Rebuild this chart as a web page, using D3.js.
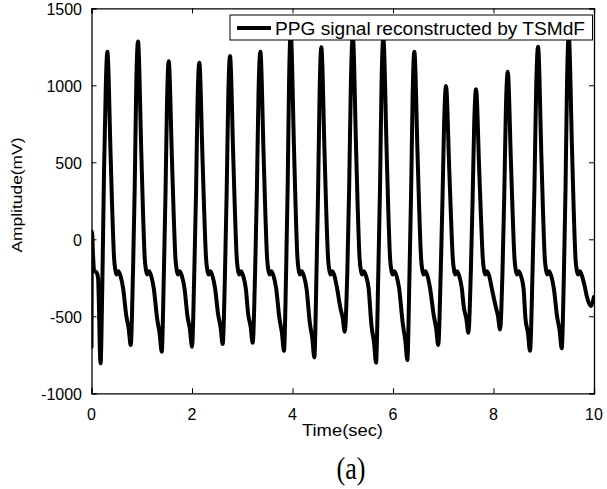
<!DOCTYPE html>
<html>
<head>
<meta charset="utf-8">
<script src="https://cdn.jsdelivr.net/npm/d3@7"></script>
<style>
html,body{margin:0;padding:0;background:#fff;}
svg{display:block;}
</style>
</head>
<body>
<svg id="chart" width="607" height="489"></svg>
<script>
// ---- data ----
const legendLabel = "PPG signal reconstructed by TSMdF";
const xLabel = "Time(sec)";
const yLabel = "Amplitude(mV)";
const panelLabel = "(a)";
const xTicks = [0, 2, 4, 6, 8, 10];
const yTicks = [-1000, -500, 0, 500, 1000, 1500];
const xDomain = [0, 10];
const yDomain = [-1000, 1500];

// [time (sec), amplitude (mV)]
const ppgSamples = [
  [0,-700],[0.01,50],[0.03,-100],[0.055,-205],[0.10,-215],[0.13,-250],[0.18,-805],[0.215,-300],[0.25,450],[0.285,1000],
  [0.315,1218],[0.38,548],[0.41,219],[0.45,-125],[0.475,-200],[0.50,-228],[0.535,-208],[0.575,-235],[0.63,-320],[0.69,-492],[0.74,-580],[0.78,-687],[0.826,-210],[0.86,334],[0.89,989],
  [0.925,1285],[0.99,578],[1.02,231],[1.06,-125],[1.085,-200],[1.11,-228],[1.145,-208],[1.185,-235],[1.24,-320],[1.307,-518],[1.357,-613],[1.397,-730],[1.441,-210],[1.473,301],[1.503,890],
  [1.536,1156],[1.601,520],[1.631,208],[1.671,-125],[1.696,-200],[1.721,-228],[1.756,-208],[1.796,-235],[1.851,-320],[1.91,-499],[1.96,-588],[2.0,-698],[2.046,-210],[2.08,298],[2.11,883],
  [2.145,1147],[2.21,516],[2.24,206],[2.28,-125],[2.305,-200],[2.33,-228],[2.365,-208],[2.405,-235],[2.46,-320],[2.52,-488],[2.57,-574],[2.61,-680],[2.657,-210],[2.69,309],[2.721,916],
  [2.756,1190],[2.821,536],[2.851,214],[2.891,-125],[2.916,-200],[2.941,-228],[2.976,-208],[3.016,-235],[3.071,-320],[3.117,-483],[3.167,-568],[3.207,-672],[3.256,-210],[3.291,317],[3.323,938],
  [3.36,1218],[3.425,548],[3.455,219],[3.495,-125],[3.52,-200],[3.545,-228],[3.58,-208],[3.62,-235],[3.675,-320],[3.74,-514],[3.79,-609],[3.83,-724],[3.873,-210],[3.904,348],[3.932,1032],
  [3.964,1340],[4.029,603],[4.059,241],[4.099,-125],[4.124,-200],[4.149,-228],[4.184,-208],[4.224,-235],[4.279,-320],[4.344,-540],[4.394,-642],[4.434,-767],[4.478,-210],[4.51,324],[4.54,960],
  [4.573,1247],[4.638,561],[4.668,224],[4.708,-125],[4.733,-200],[4.758,-228],[4.793,-208],[4.833,-235],[4.888,-320],[4.95,-440],[5.0,-512],[5.04,-600],[5.091,-210],[5.128,343],[5.162,1016],
  [5.2,1320],[5.265,594],[5.295,238],[5.335,-125],[5.36,-200],[5.385,-228],[5.42,-208],[5.46,-235],[5.515,-320],[5.572,-561],[5.622,-669],[5.662,-801],[5.708,-210],[5.742,341],[5.772,1009],
  [5.807,1310],[5.872,590],[5.902,236],[5.942,-125],[5.967,-200],[5.992,-228],[6.027,-208],[6.067,-235],[6.122,-320],[6.195,-550],[6.245,-656],[6.285,-784],[6.329,-210],[6.361,317],[6.391,938],
  [6.424,1218],[6.489,548],[6.519,219],[6.559,-125],[6.584,-200],[6.609,-228],[6.644,-208],[6.684,-235],[6.739,-320],[6.81,-492],[6.86,-580],[6.9,-687],[6.95,-210],[6.985,259],[7.018,766],
  [7.055,995],[7.12,448],[7.15,179],[7.19,-125],[7.215,-200],[7.24,-228],[7.275,-208],[7.315,-235],[7.37,-320],[7.41,-444],[7.46,-517],[7.5,-607],[7.549,-210],[7.584,253],[7.616,750],
  [7.652,974],[7.717,438],[7.747,175],[7.787,-125],[7.812,-200],[7.837,-228],[7.872,-208],[7.912,-235],[7.967,-320],[8.04,-431],[8.09,-500],[8.13,-585],[8.179,-210],[8.214,283],[8.246,838],
  [8.283,1088],[8.348,490],[8.378,196],[8.418,-125],[8.443,-200],[8.468,-228],[8.503,-208],[8.543,-235],[8.598,-320],[8.636,-514],[8.686,-609],[8.726,-724],[8.777,-210],[8.814,325],[8.848,963],
  [8.886,1251],[8.951,563],[8.981,225],[9.021,-125],[9.046,-200],[9.071,-228],[9.106,-208],[9.146,-235],[9.201,-320],[9.267,-505],[9.317,-596],[9.357,-708],[9.402,-210],[9.434,343],[9.463,1016],
  [9.497,1320],[9.562,594],[9.592,238],[9.632,-125],[9.657,-200],[9.682,-228],[9.717,-208],[9.757,-235],[9.812,-300],[9.86,-375],[9.934,-433],[10.0,-373]
];

// ---- layout ----
const svg = d3.select("#chart");
const plotLeft = 91.5, plotRight = 594, plotTop = 8.3, plotBottom = 393.3;
const x = d3.scaleLinear().domain(xDomain).range([plotLeft, plotRight]);
const y = d3.scaleLinear().domain(yDomain).range([plotBottom, plotTop]);
const font = "'Liberation Sans', Arial, sans-serif";

svg.append("rect").attr("width", 607).attr("height", 489).attr("fill", "#fff");

svg.append("defs").append("clipPath").attr("id", "plotclip")
  .append("rect").attr("x", plotLeft).attr("y", plotTop)
  .attr("width", plotRight - plotLeft).attr("height", plotBottom - plotTop);

// signal
const line = d3.line().x(d => x(d[0])).y(d => y(d[1])).curve(d3.curveMonotoneX);
svg.append("path")
  .datum(ppgSamples)
  .attr("clip-path", "url(#plotclip)")
  .attr("d", line)
  .attr("fill", "none")
  .attr("stroke", "#000")
  .attr("stroke-width", 4)
  .attr("stroke-linejoin", "round")
  .attr("stroke-linecap", "round");

// axes (MATLAB style: ticks inside on all sides)
const tickLen = 5;
const bottomAxis = d3.axisBottom(x).tickValues(xTicks).tickSize(-tickLen).tickFormat("");
const topAxis = d3.axisTop(x).tickValues(xTicks).tickSize(-tickLen).tickFormat("");
const leftAxis = d3.axisLeft(y).tickValues(yTicks).tickSize(-tickLen).tickFormat("");
const rightAxis = d3.axisRight(y).tickValues(yTicks).tickSize(-tickLen).tickFormat("");
[[bottomAxis, `translate(0,${plotBottom})`], [topAxis, `translate(0,${plotTop})`],
 [leftAxis, `translate(${plotLeft},0)`], [rightAxis, `translate(${plotRight},0)`]].forEach(([ax, tr]) => {
  const g = svg.append("g").attr("transform", tr).call(ax);
  g.selectAll("path.domain").attr("stroke", "#000").attr("stroke-width", 1.3);
  g.selectAll(".tick line").attr("stroke", "#000").attr("stroke-width", 1);
});

// tick labels
svg.append("g").selectAll("text").data(xTicks).join("text")
  .attr("x", d => x(d)).attr("y", 420)
  .attr("text-anchor", "middle")
  .attr("font-family", font).attr("font-size", 16).attr("fill", "#000")
  .text(d => d);
svg.append("g").selectAll("text").data(yTicks).join("text")
  .attr("x", 82).attr("y", d => y(d) + 7)
  .attr("text-anchor", "end")
  .attr("font-family", font).attr("font-size", 16).attr("fill", "#000")
  .text(d => d);

// axis labels
svg.append("text")
  .attr("x", 342.5).attr("y", 436)
  .attr("text-anchor", "middle")
  .attr("font-family", font).attr("font-size", 16.5).attr("fill", "#000")
  .attr("textLength", 81).attr("lengthAdjust", "spacingAndGlyphs")
  .text(xLabel);
svg.append("text")
  .attr("transform", "translate(22,195) rotate(-90)")
  .attr("text-anchor", "middle")
  .attr("font-family", font).attr("font-size", 14.5).attr("fill", "#000")
  .attr("textLength", 115).attr("lengthAdjust", "spacingAndGlyphs")
  .text(yLabel);

// panel label
svg.append("text")
  .attr("x", 351).attr("y", 479)
  .attr("text-anchor", "middle")
  .attr("font-family", "'Liberation Serif', 'Times New Roman', serif").attr("font-size", 31).attr("fill", "#000")
  .attr("textLength", 29).attr("lengthAdjust", "spacingAndGlyphs")
  .text(panelLabel);

// legend
const lg = svg.append("g");
lg.append("rect").attr("x", 230).attr("y", 15).attr("width", 362.5).attr("height", 25)
  .attr("fill", "#fff").attr("stroke", "#000").attr("stroke-width", 1);
lg.append("line").attr("x1", 237).attr("x2", 271).attr("y1", 28).attr("y2", 28)
  .attr("stroke", "#000").attr("stroke-width", 4);
lg.append("text").attr("x", 275).attr("y", 34.5)
  .attr("font-family", font).attr("font-size", 17.5).attr("fill", "#000")
  .attr("textLength", 310).attr("lengthAdjust", "spacingAndGlyphs")
  .text(legendLabel);
</script>
</body>
</html>
